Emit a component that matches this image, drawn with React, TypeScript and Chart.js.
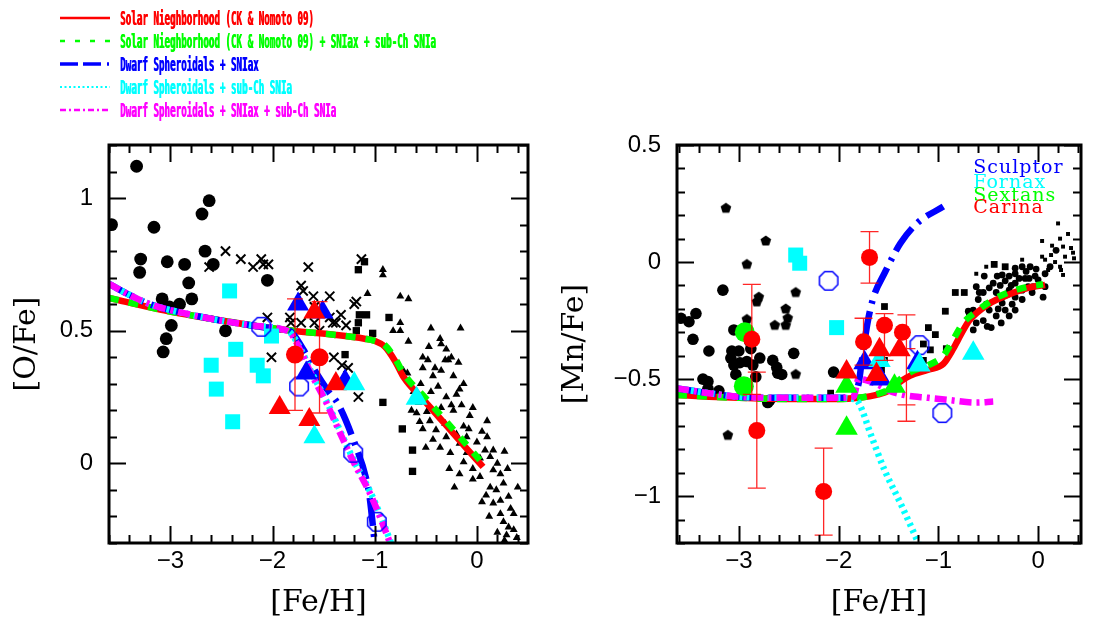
import React, { useEffect, useRef } from 'react';
import { Chart, registerables } from 'chart.js';

Chart.register(...registerables);

type P = [number, number];

// ---------------- axis ticks ----------------
const feHTicks = [-3, -2, -1, 0];
const oFeTicks = [0, 0.5, 1];
const mnFeTicks = [-1, -0.5, 0, 0.5];

// ---------------- legend ----------------
const legendLabels = [
  'Solar Nieghborhood (CK & Nomoto 09)',
  'Solar Nieghborhood (CK & Nomoto 09) + SNIax + sub-Ch SNIa',
  'Dwarf Spheroidals + SNIax',
  'Dwarf Spheroidals + sub-Ch SNIa',
  'Dwarf Spheroidals + SNIax + sub-Ch SNIa',
];
const galaxyLabels = ['Sculptor', 'Fornax', 'Sextans', 'Carina'];
const galaxyLabelY = [0.379, 0.315, 0.261, 0.208];

// ---------------- left panel: [O/Fe] data ----------------
const oBlackCircles: P[] = [
  [-3.575, 0.9], [-3.33, 1.12], [-3.16, 0.89], [-3.29, 0.77], [-3.3, 0.72], [-3.03, 0.76],
  [-2.86, 0.75], [-2.82, 0.68], [-2.79, 0.62], [-2.91, 0.6], [-3.08, 0.62], [-3.01, 0.59],
  [-2.99, 0.52], [-3.04, 0.47], [-3.07, 0.42], [-2.69, 0.94], [-2.62, 0.99], [-2.66, 0.8],
  [-2.58, 0.75], [-2.05, 0.69], [-2.46, 0.5],
];
const oCrosses: P[] = [
  [-2.46, 0.8], [-2.31, 0.77], [-2.62, 0.74], [-2.19, 0.74], [-2.11, 0.77], [-2.09, 0.75],
  [-2.04, 0.75], [-2.05, 0.55], [-2.01, 0.4], [-1.65, 0.74], [-1.13, 0.77], [-1.72, 0.67],
  [-1.7, 0.65], [-1.6, 0.63], [-1.44, 0.63], [-1.83, 0.55], [-1.82, 0.53], [-1.72, 0.53],
  [-1.59, 0.59], [-1.54, 0.58], [-1.38, 0.53], [-1.33, 0.56], [-1.28, 0.52], [-1.2, 0.6],
  [-1.18, 0.61], [-1.44, 0.55], [-1.4, 0.4], [-1.32, 0.37], [-1.26, 0.36], [-1.16, 0.25],
  [-1.59, 0.53], [-1.54, 0.5], [-1.41, 0.53],
];
const oBlackSquares: P[] = [
  [-1.1, 0.76], [-1.16, 0.73], [-1.15, 0.56], [-1.08, 0.56], [-1.16, 0.53], [-1.18, 0.5],
  [-1.02, 0.49], [-0.86, 0.55], [-1.29, 0.41], [-0.92, 0.23], [-0.73, 0.13], [-0.63, 0.05],
  [-0.63, -0.03],
];
const oBlackTriangles: P[] = [
  [-0.92, 0.73], [-0.92, 0.71], [-1.07, 0.64], [-0.75, 0.63], [-0.67, 0.62], [-0.75, 0.53],
  [-0.82, 0.5], [-0.75, 0.5], [-0.67, 0.46], [-0.45, 0.51], [-0.16, 0.51], [-0.36, 0.47],
  [-0.35, 0.45], [-0.47, 0.44], [-0.3, 0.43], [-0.53, 0.4], [-0.48, 0.39], [-0.53, 0.36],
  [-0.41, 0.36], [-0.35, 0.35], [-0.31, 0.39], [-0.28, 0.39], [-0.25, 0.4], [-0.18, 0.38],
  [-0.23, 0.33], [-0.43, 0.33], [-0.72, 0.35], [-0.68, 0.34], [-0.13, 0.3], [-0.17, 0.28],
  [-0.2, 0.26], [-0.3, 0.25], [-0.35, 0.21], [-0.57, 0.23], [-0.64, 0.2], [-0.59, 0.19],
  [-0.49, 0.195], [-0.53, 0.13], [-0.23, 0.2], [-0.04, 0.21], [0.1, 0.16], [-0.07, 0.18],
  [-0.13, 0.14], [-0.2, 0.11], [-0.3, 0.1], [-0.43, 0.09], [-0.36, 0.06], [-0.26, 0.04],
  [-0.17, 0.075], [-0.1, 0.1], [0.0, 0.08], [0.16, 0.05], [0.27, 0.045], [0.13, 0.025],
  [0.03, 0.02], [-0.13, 0.005], [-0.04, -0.02], [-0.17, -0.04], [-0.22, -0.09], [-0.04, -0.06],
  [0.03, -0.05], [0.16, -0.025], [0.23, -0.04], [0.13, -0.09], [0.19, -0.1], [0.26, -0.075],
  [0.4, -0.09], [0.05, -0.145], [0.16, -0.15], [0.23, -0.14], [0.31, -0.125], [0.36, -0.19],
  [0.23, -0.19], [0.26, -0.22], [0.31, -0.24], [0.36, -0.25], [0.29, -0.27], [0.27, -0.29],
  [0.39, -0.28], [-0.4, 0.126], [-0.31, 0.15], [-0.46, 0.16], [0.1, 0.1], [-0.1, 0.04],
  [-0.56, 0.157], [-0.55, 0.3], [-0.45, 0.27], [-0.38, 0.29], [-0.25, 0.22], [-0.15, 0.22],
  [-0.08, 0.13], [0.05, 0.12], [0.08, 0.05], [0.2, 0.0], [0.3, -0.02], [0.33, -0.17],
  [0.12, -0.2], [0.2, -0.26], [-0.62, 0.27], [-0.5, 0.06], [-0.27, -0.02], [0.09, -0.12],
];
const oCyanSquares: P[] = [
  [-2.42, 0.65], [-2.01, 0.48], [-2.36, 0.43], [-2.6, 0.37], [-2.15, 0.37], [-2.09, 0.33],
  [-2.55, 0.28], [-2.39, 0.157],
];
const oBlueTriangles: P[] = [[-1.75, 0.6], [-1.51, 0.57], [-1.67, 0.34], [-1.29, 0.31]];
const oRedTriangles: P[] = [[-1.59, 0.57], [-1.38, 0.3], [-1.93, 0.21], [-1.64, 0.165]];
const oCyanTriangles: P[] = [[-1.2, 0.3], [-1.59, 0.1], [-0.59, 0.245]];
const oRedCircles: P[] = [[-1.78, 0.41], [-1.54, 0.4]];
const oErrX = [-1.78, -1.54];
const oErrLow = [0.2, 0.19];
const oErrHigh = [0.62, 0.61];
const oBlueOctagons: P[] = [[-2.11, 0.515], [-1.74, 0.29], [-1.21, 0.04], [-0.98, -0.22]];

// left models
const oSolarRedX = [-3.6, -3.1, -2.6, -2.2, -1.8, -1.4, -1.1, -1.0, -0.9, -0.8, -0.72, -0.5, -0.3, -0.1, 0.06];
const oSolarRedY = [0.624, 0.58, 0.545, 0.52, 0.5, 0.485, 0.47, 0.462, 0.44, 0.385, 0.327, 0.23, 0.143, 0.056, -0.013];
const oSolarGreenX = [-3.6, -3.1, -2.6, -2.2, -1.8, -1.4, -1.1, -1.0, -0.9, -0.8, -0.72, -0.5, -0.3, -0.1, 0.03];
const oSolarGreenY = [0.624, 0.58, 0.545, 0.52, 0.5, 0.485, 0.47, 0.462, 0.445, 0.395, 0.34, 0.245, 0.158, 0.07, 0.012];
const oDsphBlueX = [-3.6, -3.4, -3.2, -3.0, -2.6, -2.2, -1.9, -1.83, -1.7, -1.57, -1.45, -1.36, -1.2, -1.08, -1.05, -1.0];
const oDsphBlueY = [0.677, 0.635, 0.6, 0.578, 0.545, 0.52, 0.505, 0.5, 0.43, 0.34, 0.27, 0.225, 0.08, -0.063, -0.126, -0.3];
const oDsphCyanX = [-3.6, -3.4, -3.2, -3.0, -2.6, -2.2, -1.9, -1.82, -1.71, -1.63, -1.46, -1.33, -1.19, -1.04, -0.94, -0.84];
const oDsphCyanY = [0.677, 0.635, 0.6, 0.578, 0.545, 0.52, 0.505, 0.49, 0.42, 0.352, 0.226, 0.115, 0.0, -0.11, -0.2, -0.3];
const oDsphMagX = [-3.6, -3.4, -3.2, -3.0, -2.6, -2.2, -1.9, -1.82, -1.72, -1.64, -1.47, -1.34, -1.2, -1.05, -0.95, -0.85];
const oDsphMagY = [0.677, 0.635, 0.6, 0.578, 0.545, 0.52, 0.505, 0.49, 0.42, 0.352, 0.226, 0.115, 0.0, -0.11, -0.2, -0.3];

// ---------------- right panel: [Mn/Fe] data ----------------
const mPentagons: P[] = [
  [-3.13, 0.23], [-2.73, 0.09], [-2.92, -0.01], [-2.43, -0.13], [-2.8, -0.15], [-2.82, -0.17],
  [-2.53, -0.2], [-2.92, -0.245], [-2.64, -0.27], [-2.53, -0.27], [-2.51, -0.24], [-2.43, -0.48],
  [-3.11, -0.74],
];
const mBlackCircles: P[] = [
  [-3.16, -0.12], [-3.58, -0.24], [-3.5, -0.255], [-3.43, -0.22], [-3.46, -0.33], [-3.3, -0.38],
  [-3.05, -0.29], [-3.07, -0.38], [-3.0, -0.38], [-3.08, -0.41], [-3.05, -0.44], [-2.99, -0.43],
  [-2.92, -0.425], [-2.86, -0.44], [-2.79, -0.41], [-3.03, -0.48], [-2.83, -0.49], [-2.88, -0.37],
  [-2.66, -0.42], [-2.62, -0.45], [-2.57, -0.48], [-2.45, -0.39], [-3.36, -0.5], [-3.31, -0.51],
  [-3.2, -0.55], [-2.69, -0.59], [-2.89, -0.34], [-3.31, -0.54], [-2.61, -0.475], [-2.71, -0.6],
  [-2.05, -0.47],
];
const mBlackSquares: P[] = [
  [-1.54, -0.19], [-1.15, -0.35], [-1.1, -0.28], [-1.03, -0.31], [-0.93, -0.21], [-0.92, -0.37],
  [-0.83, -0.13], [-0.74, -0.13], [-1.15, -0.42], [-1.08, -0.375], [-1.54, -0.42], [-1.57, -0.46],
  [-0.44, -0.01], [-0.33, -0.02], [-2.08, -0.56],
];
const mTinySquares: P[] = [
  [0.04, 0.09], [0.2, 0.165], [0.25, 0.066], [0.27, 0.023], [0.22, 0.1], [0.33, 0.06],
  [0.35, 0.04], [0.36, 0.016], [0.04, 0.023], [0.07, 0.01], [0.17, 0.0], [0.22, -0.02],
  [0.25, -0.055], [0.1, -0.034], [0.13, 0.03], [-0.16, 0.01], [-0.52, -0.02], [-0.62, -0.05],
  [0.23, -0.034], [0.3, 0.12], [0.14, 0.07],
];
const mBlackDots: P[] = [
  [-0.54, -0.06], [-0.41, -0.06], [-0.29, -0.06], [-0.23, -0.05], [-0.16, -0.02], [-0.08, -0.02],
  [-0.03, -0.06], [0.0, -0.076], [0.07, -0.05], [0.07, -0.105], [0.05, -0.15], [-0.62, -0.105],
  [-0.59, -0.13], [-0.65, -0.205], [-0.69, -0.22], [-0.52, -0.18], [-0.49, -0.205], [-0.42, -0.23],
  [-0.33, -0.205], [-0.26, -0.18], [-0.23, -0.15], [-0.16, -0.12], [-0.1, -0.105], [-0.36, -0.15],
  [-0.42, -0.13], [-0.49, -0.11], [-0.29, -0.12], [-0.23, -0.09], [-0.13, -0.07], [-0.05, -0.105],
  [-0.51, -0.275], [-0.47, -0.28], [-0.37, -0.26], [-0.29, -0.23], [-0.55, -0.25], [-0.62, -0.26],
  [-0.65, -0.29], [-0.7, -0.21], [-0.6, -0.16], [-0.36, -0.175], [-0.23, -0.205], [-0.16, -0.16],
  [-0.06, -0.13], [-0.36, -0.055], [-0.23, -0.026], [-0.45, -0.09], [-0.38, -0.1], [-0.33, -0.08],
  [-0.55, -0.13], [-0.12, -0.04], [-0.02, -0.03], [0.12, -0.02], [0.18, 0.05], [-0.4, -0.2],
  [-0.31, -0.14], [-0.27, -0.1], [-0.19, -0.07], [-0.09, -0.07],
];
const mCyanSquares: P[] = [[-2.43, 0.03], [-2.39, -0.005], [-2.02, -0.28]];
const mBlueOctagons: P[] = [[-2.1, -0.08], [-1.19, -0.355], [-0.96, -0.645]];
const mGreenCircles: P[] = [[-2.94, -0.3], [-2.95, -0.53]];
const mRedCircles: P[] = [
  [-2.87, -0.33], [-2.82, -0.72], [-2.15, -0.98], [-1.69, 0.02], [-1.75, -0.34], [-1.54, -0.27],
  [-1.36, -0.3],
];
const mErrX = [-2.87, -2.82, -2.15, -1.69, -1.75, -1.54, -1.32, -1.32];
const mErrLow = [-0.565, -0.966, -1.166, -0.09, -0.44, -0.42, -0.68, -0.61];
const mErrHigh = [-0.095, -0.47, -0.795, 0.13, -0.24, -0.22, -0.226, -0.37];
const mRedTriangles: P[] = [[-1.92, -0.47], [-1.59, -0.375], [-1.39, -0.375], [-1.62, -0.48]];
const mGreenTriangles: P[] = [[-1.92, -0.53], [-1.44, -0.53], [-1.92, -0.71]];
const mBlueTriangles: P[] = [[-1.74, -0.43], [-1.58, -0.5], [-1.21, -0.43]];
const mCyanTriangles: P[] = [[-0.65, -0.39], [-1.19, -0.44], [-1.59, -0.42]];

// right models
const mSolarRedX = [-3.62, -3.3, -3.0, -2.5, -2.0, -1.8, -1.6, -1.5, -1.38, -1.28, -1.1, -0.95, -0.85, -0.8, -0.69, -0.5, -0.3, -0.1, 0.07];
const mSolarRedY = [-0.568, -0.575, -0.58, -0.585, -0.585, -0.58, -0.565, -0.55, -0.51, -0.485, -0.46, -0.435, -0.37, -0.33, -0.25, -0.18, -0.14, -0.11, -0.098];
const mSolarGreenX = [-3.62, -3.3, -3.0, -2.5, -2.0, -1.8, -1.6, -1.5, -1.38, -1.28, -1.1, -0.95, -0.85, -0.75, -0.6, -0.45, -0.3, -0.1, 0.05];
const mSolarGreenY = [-0.568, -0.575, -0.58, -0.585, -0.585, -0.58, -0.562, -0.545, -0.5, -0.47, -0.44, -0.4, -0.33, -0.26, -0.205, -0.16, -0.13, -0.105, -0.095];
const mDsphBlueX = [-3.62, -3.3, -3.0, -2.5, -2.0, -1.85, -1.8, -1.77, -1.71, -1.65, -1.54, -1.38, -1.21, -0.95];
const mDsphBlueY = [-0.54, -0.56, -0.575, -0.58, -0.58, -0.565, -0.52, -0.43, -0.26, -0.15, -0.048, 0.08, 0.167, 0.237];
const mDsphCyanX = [-3.62, -3.3, -3.0, -2.5, -2.0, -1.85, -1.8, -1.67, -1.54, -1.38, -1.2];
const mDsphCyanY = [-0.54, -0.56, -0.575, -0.58, -0.58, -0.585, -0.6, -0.745, -0.888, -1.03, -1.2];
const mDsphMagX = [-3.62, -3.3, -3.0, -2.5, -2.0, -1.85, -1.8, -1.72, -1.6, -1.51, -1.34, -1.1, -0.9, -0.62, -0.45];
const mDsphMagY = [-0.54, -0.56, -0.575, -0.58, -0.58, -0.575, -0.5, -0.505, -0.525, -0.546, -0.568, -0.58, -0.589, -0.6, -0.596];

// ---------------- helpers ----------------
const RED = '#ff0000';
const GREEN = '#00ff00';
const BLUE = '#0000ff';
const CYAN = '#00ffff';
const MAGENTA = '#ff00ff';

const pts = (a: P[]) => a.map(([x, y]) => ({ x, y }));
const curve = (xs: number[], ys: number[]) => xs.map((x, i) => ({ x, y: ys[i] }));
const fmt = (v: number) => (v < 0 ? '\u2212' : '') + String(Math.abs(v));

function polygonCanvas(n: number, r: number, rot: number, color: string, fill: boolean, lw = 1.5) {
  const c = document.createElement('canvas');
  const s = Math.ceil(2 * r + 4);
  c.width = s;
  c.height = s;
  const ctx = c.getContext('2d')!;
  ctx.beginPath();
  for (let k = 0; k < n; k++) {
    const a = rot + (k * 2 * Math.PI) / n;
    const px = s / 2 + r * Math.cos(a);
    const py = s / 2 + r * Math.sin(a);
    if (k === 0) ctx.moveTo(px, py);
    else ctx.lineTo(px, py);
  }
  ctx.closePath();
  if (fill) {
    ctx.fillStyle = color;
    ctx.fill();
  } else {
    ctx.strokeStyle = color;
    ctx.lineWidth = lw;
    ctx.stroke();
  }
  return c;
}

function scatterDs(data: P[], style: any, color: string, radius: number, extra: any = {}) {
  return {
    data: pts(data),
    showLine: false,
    pointStyle: style,
    pointRadius: radius,
    pointBackgroundColor: color,
    pointBorderColor: color,
    pointBorderWidth: 0,
    pointHoverRadius: radius,
    ...extra,
  };
}

function lineDs(xs: number[], ys: number[], color: string, dash: number[]) {
  return {
    data: curve(xs, ys),
    showLine: true,
    pointRadius: 0,
    pointHoverRadius: 0,
    borderColor: color,
    borderWidth: 6.5,
    borderDash: dash,
    borderCapStyle: 'butt',
    borderJoinStyle: 'round',
    cubicInterpolationMode: 'monotone',
    fill: false,
  };
}

function withOrder(layers: any[]) {
  return layers.map((d, i) => ({ ...d, order: layers.length - i }));
}

function framePlugin(xMinorStep: number, xMajorStep: number, yMinorStep: number, yMajorStep: number) {
  return {
    id: 'frameTicks',
    afterDraw(chart: any) {
      const { ctx, chartArea: a, scales } = chart;
      const xs = scales.x;
      const ys = scales.y;
      const isMajor = (v: number, step: number) => Math.abs(v - Math.round(v / step) * step) < 1e-6;
      ctx.save();
      ctx.strokeStyle = '#000';
      ctx.lineWidth = 2;
      ctx.beginPath();
      for (let v = Math.ceil(xs.min / xMinorStep - 1e-6) * xMinorStep; v <= xs.max + 1e-9; v += xMinorStep) {
        const px = Math.round(xs.getPixelForValue(v)) + 0.5;
        const len = isMajor(v, xMajorStep) ? 17 : 8;
        ctx.moveTo(px, a.bottom);
        ctx.lineTo(px, a.bottom - len);
        ctx.moveTo(px, a.top);
        ctx.lineTo(px, a.top + len);
      }
      for (let v = Math.ceil(ys.min / yMinorStep - 1e-6) * yMinorStep; v <= ys.max + 1e-9; v += yMinorStep) {
        const py = Math.round(ys.getPixelForValue(v)) + 0.5;
        const len = isMajor(v, yMajorStep) ? 17 : 8;
        ctx.moveTo(a.left, py);
        ctx.lineTo(a.left + len, py);
        ctx.moveTo(a.right, py);
        ctx.lineTo(a.right - len, py);
      }
      ctx.stroke();
      ctx.lineWidth = 3;
      ctx.strokeRect(a.left, a.top, a.right - a.left, a.bottom - a.top);
      ctx.restore();
    },
  };
}

function errorBarPlugin(xs: number[], lo: number[], hi: number[], cap: number) {
  return {
    id: 'errorBars',
    afterDatasetsDraw(chart: any) {
      const { ctx, scales } = chart;
      ctx.save();
      ctx.strokeStyle = 'rgba(255,0,0,0.85)';
      ctx.lineWidth = 1.3;
      ctx.beginPath();
      for (let i = 0; i < xs.length; i++) {
        const px = scales.x.getPixelForValue(xs[i]);
        const y1 = scales.y.getPixelForValue(lo[i]);
        const y2 = scales.y.getPixelForValue(hi[i]);
        ctx.moveTo(px, y1);
        ctx.lineTo(px, y2);
        ctx.moveTo(px - cap, y1);
        ctx.lineTo(px + cap, y1);
        ctx.moveTo(px - cap, y2);
        ctx.lineTo(px + cap, y2);
      }
      ctx.stroke();
      ctx.restore();
    },
  };
}

function galaxyLabelPlugin() {
  const colors = [BLUE, CYAN, GREEN, RED];
  return {
    id: 'galaxyLabels',
    afterDraw(chart: any) {
      const { ctx, scales } = chart;
      ctx.save();
      ctx.font = '19px "DejaVu Serif"';
      (ctx as any).letterSpacing = '1px';
      ctx.textAlign = 'left';
      ctx.textBaseline = 'alphabetic';
      galaxyLabels.forEach((t, i) => {
        ctx.fillStyle = colors[i];
        ctx.fillText(t, scales.x.getPixelForValue(-0.65), scales.y.getPixelForValue(galaxyLabelY[i]));
      });
      ctx.restore();
    },
  };
}

function axes(xmin: number, xmax: number, ymin: number, ymax: number, yTicks: number[], yTitle: string, yWidth: number, yTitlePad: number) {
  const tickFont = { family: 'Liberation Sans', size: 24 };
  const titleFont = { family: 'DejaVu Serif', size: 30 };
  return {
    x: {
      type: 'linear',
      min: xmin,
      max: xmax,
      afterFit: (s: any) => {
        s.height = 78;
      },
      afterBuildTicks: (s: any) => {
        s.ticks = feHTicks.map((v) => ({ value: v }));
      },
      grid: { display: false, drawTicks: false },
      border: { display: false },
      ticks: { padding: 4, font: tickFont, color: '#000', autoSkip: false, maxRotation: 0, callback: (v: number) => fmt(v) },
      title: { display: true, text: '[Fe/H]', font: titleFont, color: '#000', padding: { top: 0, bottom: 0 } },
    },
    y: {
      type: 'linear',
      min: ymin,
      max: ymax,
      afterFit: (s: any) => {
        s.width = yWidth;
      },
      afterBuildTicks: (s: any) => {
        s.ticks = yTicks.map((v) => ({ value: v }));
      },
      grid: { display: false, drawTicks: false },
      border: { display: false },
      ticks: { padding: 16, font: tickFont, color: '#000', autoSkip: false, callback: (v: number) => fmt(v) },
      title: { display: true, text: yTitle, font: titleFont, color: '#000', padding: { top: yTitlePad, bottom: 0 } },
    },
  };
}

function buildLeft(oct: HTMLCanvasElement) {
  const datasets = withOrder([
    scatterDs(oBlackTriangles, 'triangle', '#000', 4.6),
    scatterDs(oBlackSquares, 'rect', '#000', 5.2),
    scatterDs(oCrosses, 'crossRot', '#000', 6.5, { pointBorderWidth: 2 }),
    scatterDs(oBlackCircles, 'circle', '#000', 6.4),
    lineDs(oSolarRedX, oSolarRedY, RED, []),
    lineDs(oSolarGreenX, oSolarGreenY, GREEN, [10, 10]),
    lineDs(oDsphBlueX, oDsphBlueY, BLUE, [28, 8, 3, 8]),
    lineDs(oDsphCyanX, oDsphCyanY, CYAN, [3, 4]),
    lineDs(oDsphMagX, oDsphMagY, MAGENTA, [12, 5, 3, 5]),
    scatterDs(oCyanSquares, 'rect', CYAN, 10.6),
    scatterDs(oBlueOctagons, oct, BLUE, 10),
    scatterDs(oRedCircles, 'circle', RED, 9),
    scatterDs(oBlueTriangles, 'triangle', BLUE, 12.7),
    scatterDs(oRedTriangles, 'triangle', RED, 12.7),
    scatterDs(oCyanTriangles, 'triangle', CYAN, 12.7),
  ]);
  return {
    type: 'scatter',
    data: { datasets },
    options: {
      animation: false,
      responsive: false,
      maintainAspectRatio: false,
      events: [],
      layout: { padding: { left: 0, top: 145, right: 19, bottom: 0 } },
      plugins: { legend: { display: false }, tooltip: { enabled: false } },
      scales: axes(-3.6, 0.5, -0.3, 1.2, oFeTicks, '[O/Fe]', 109, 9),
    },
    plugins: [errorBarPlugin(oErrX, oErrLow, oErrHigh, 8), framePlugin(0.2, 1, 0.1, 0.5)],
  };
}

function buildRight(pent: HTMLCanvasElement, oct: HTMLCanvasElement) {
  const datasets = withOrder([
    scatterDs(mBlackDots, 'circle', '#000', 3.4),
    scatterDs(mTinySquares, 'rect', '#000', 2.8),
    scatterDs(mBlackSquares, 'rect', '#000', 4.8),
    scatterDs(mBlackCircles, 'circle', '#000', 5.8),
    scatterDs(mPentagons, pent, '#000', 5.5),
    lineDs(mSolarRedX, mSolarRedY, RED, []),
    lineDs(mSolarGreenX, mSolarGreenY, GREEN, [10, 10]),
    lineDs(mDsphBlueX, mDsphBlueY, BLUE, [28, 8, 3, 8]),
    lineDs(mDsphCyanX, mDsphCyanY, CYAN, [3, 4]),
    lineDs(mDsphMagX, mDsphMagY, MAGENTA, [12, 5, 3, 5]),
    scatterDs(mCyanSquares, 'rect', CYAN, 10.6),
    scatterDs(mBlueOctagons, oct, BLUE, 10),
    scatterDs(mGreenCircles, 'circle', GREEN, 10),
    scatterDs(mRedCircles, 'circle', RED, 8.5),
    scatterDs(mBlueTriangles, 'triangle', BLUE, 13),
    scatterDs(mGreenTriangles, 'triangle', GREEN, 13),
    scatterDs(mCyanTriangles, 'triangle', CYAN, 13),
    scatterDs(mRedTriangles, 'triangle', RED, 13),
  ]);
  return {
    type: 'scatter',
    data: { datasets },
    options: {
      animation: false,
      responsive: false,
      maintainAspectRatio: false,
      events: [],
      layout: { padding: { left: 0, top: 145, right: 7, bottom: 0 } },
      plugins: { legend: { display: false }, tooltip: { enabled: false } },
      scales: axes(-3.62, 0.43, -1.2, 0.5, mnFeTicks, '[Mn/Fe]', 130, 10),
    },
    plugins: [errorBarPlugin(mErrX, mErrLow, mErrHigh, 9), galaxyLabelPlugin(), framePlugin(0.2, 1, 0.1, 0.5)],
  };
}

const legendColors = [RED, GREEN, BLUE, CYAN, MAGENTA];
const legendDash = ['', '5 10', '18 5 18 6 2 6', '2 2.5', '6 3 2 3'];
const legendWidth = [2.5, 2.5, 3.5, 2, 2.5];
const legendRowY = [18, 41, 64, 87, 110];

export default function App() {
  const leftRef = useRef<HTMLCanvasElement>(null);
  const rightRef = useRef<HTMLCanvasElement>(null);

  useEffect(() => {
    const pent = polygonCanvas(5, 5.6, -Math.PI / 2, '#000', true);
    const oct = polygonCanvas(8, 10, Math.PI / 8, BLUE, false, 1.5);
    const left = new Chart(leftRef.current as HTMLCanvasElement, buildLeft(oct) as any);
    const right = new Chart(rightRef.current as HTMLCanvasElement, buildRight(pent, oct) as any);
    return () => {
      left.destroy();
      right.destroy();
    };
  }, []);

  return (
    <div style={{ position: 'absolute', left: 0, top: 0, width: 1094, height: 621, background: '#fff', overflow: 'hidden' }}>
      <canvas ref={leftRef} width={547} height={621} style={{ position: 'absolute', left: 0, top: 0, width: 547, height: 621 }} />
      <canvas ref={rightRef} width={547} height={621} style={{ position: 'absolute', left: 547, top: 0, width: 547, height: 621 }} />
      <svg width={1094} height={130} style={{ position: 'absolute', left: 0, top: 0 }}>
        {legendLabels.map((_, i) => (
          <line
            key={i}
            x1={60}
            x2={110}
            y1={legendRowY[i]}
            y2={legendRowY[i]}
            stroke={legendColors[i]}
            strokeWidth={legendWidth[i]}
            strokeDasharray={legendDash[i] || undefined}
          />
        ))}
      </svg>
      {legendLabels.map((t, i) => (
        <div
          key={i}
          style={{
            position: 'absolute',
            left: 120,
            top: legendRowY[i] - 12,
            height: 24,
            lineHeight: '24px',
            fontFamily: '"DejaVu Sans Mono", monospace',
            fontWeight: 'bold',
            fontSize: 20,
            color: legendColors[i],
            whiteSpace: 'nowrap',
            transform: 'scaleX(0.46)',
            transformOrigin: 'left center',
            textShadow: `1.2px 0 0 ${legendColors[i]}`,
          }}
        >
          {t}
        </div>
      ))}
    </div>
  );
}
